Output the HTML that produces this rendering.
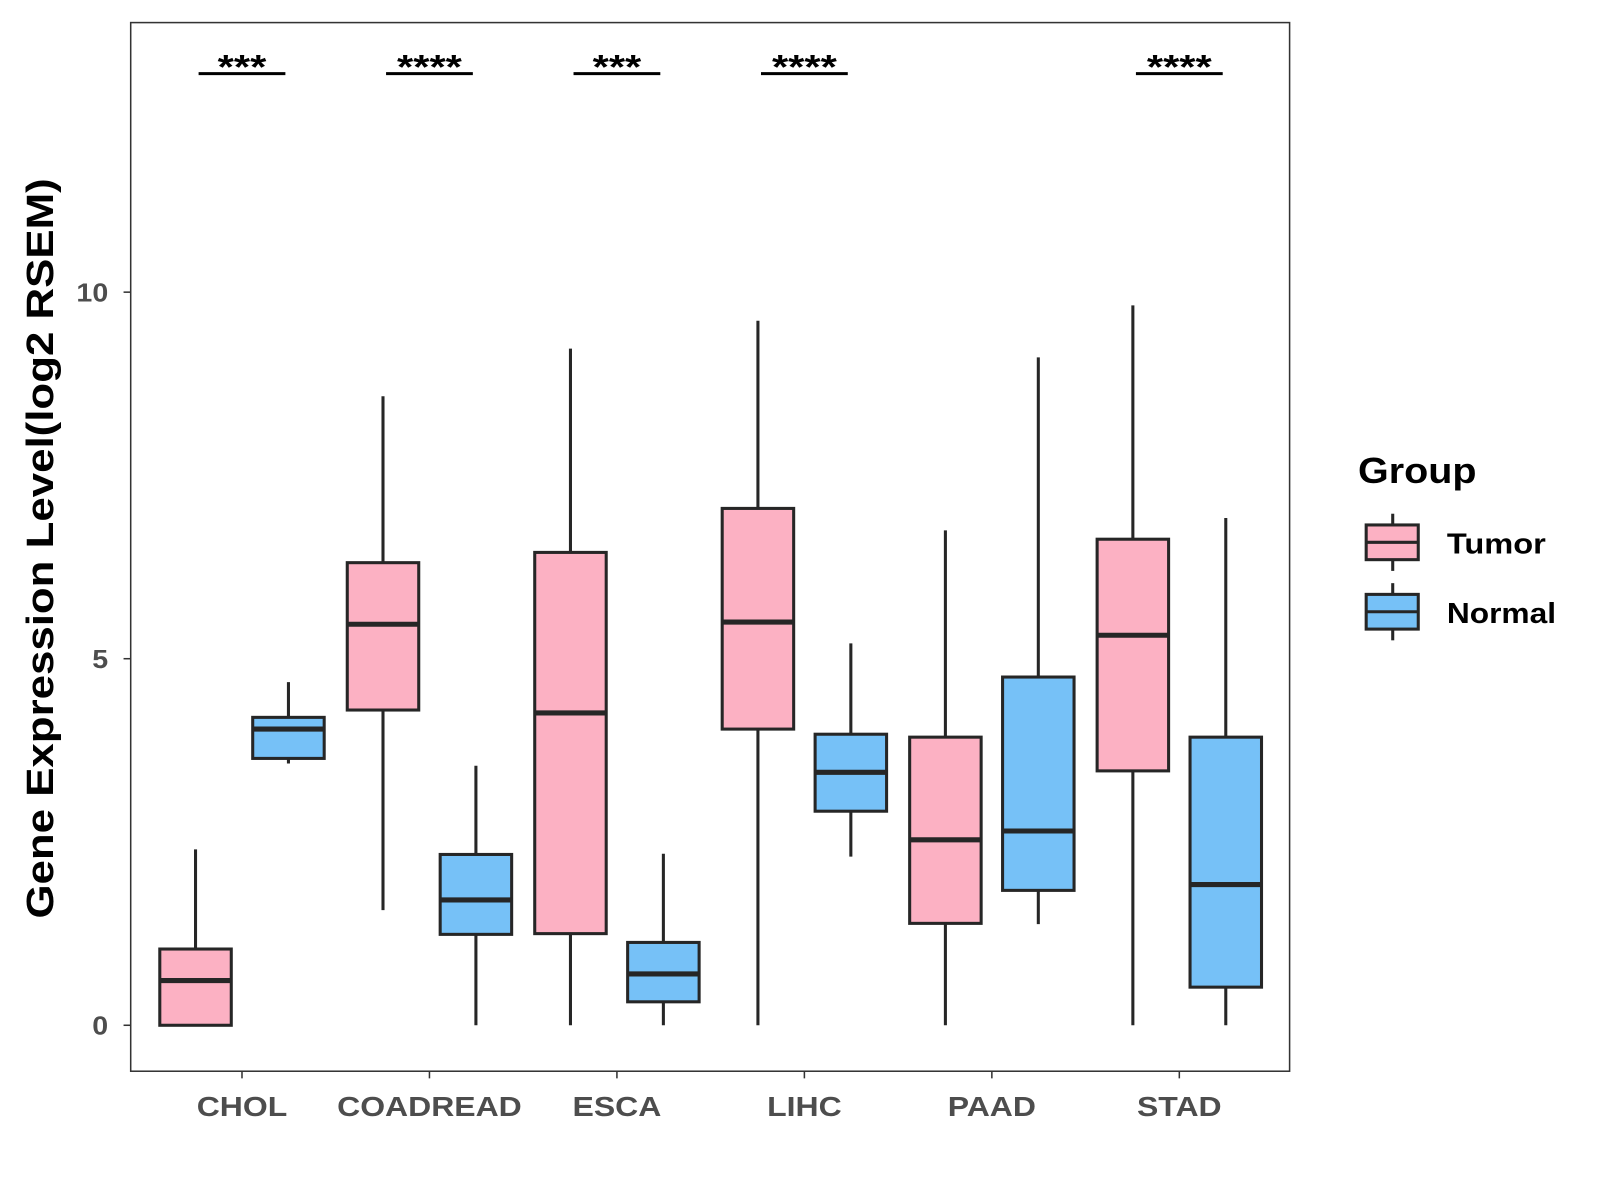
<!DOCTYPE html>
<html><head><meta charset="utf-8"><style>
html,body{margin:0;padding:0;background:#fff}
svg{display:block}
text{font-family:"Liberation Sans",Arial,sans-serif;font-weight:bold}
</style></head><body>
<svg id="chart" width="1600" height="1200" viewBox="0 0 1567 1175" xmlns="http://www.w3.org/2000/svg">
<rect x="0" y="0" width="1567" height="1175" fill="#fff"/>
<g id="plot"></g>
<rect x="128" y="22" width="1135" height="1027" fill="none" stroke="#333" stroke-width="1.5"/>
<text transform="translate(52,537) rotate(-90)" text-anchor="middle" font-size="37" fill="#000" textLength="725" lengthAdjust="spacingAndGlyphs">Gene Expression Level(log2 RSEM)</text>
<g>
<text x="1330" y="473" font-size="35" fill="#000" textLength="116" lengthAdjust="spacingAndGlyphs">Group</text>
<g>
<line x1="1364" y1="503" x2="1364" y2="559" stroke="#262626" stroke-width="3"/>
<rect x="1338" y="514" width="51" height="34" fill="#FCB1C3" stroke="#262626" stroke-width="3"/>
<line x1="1338" y1="531" x2="1389" y2="531" stroke="#262626" stroke-width="3"/>
<text x="1417" y="542" font-size="28" fill="#000" textLength="97" lengthAdjust="spacingAndGlyphs">Tumor</text></g>
<g>
<line x1="1364" y1="571" x2="1364" y2="627" stroke="#262626" stroke-width="3"/>
<rect x="1338" y="582" width="51" height="34" fill="#76C1F7" stroke="#262626" stroke-width="3"/>
<line x1="1338" y1="599" x2="1389" y2="599" stroke="#262626" stroke-width="3"/>
<text x="1417" y="610" font-size="28" fill="#000" textLength="107" lengthAdjust="spacingAndGlyphs">Normal</text></g>
</g>
</svg>
<script>
const categories = ["CHOL","COADREAD","ESCA","LIHC","PAAD","STAD"];
const tumorMin = [0,1.57,0,0,0,0];
const tumorQ1 = [0,4.30,1.25,4.04,1.39,3.47];
const tumorMed = [0.61,5.47,4.26,5.50,2.53,5.32];
const tumorQ3 = [1.04,6.31,6.45,7.05,3.93,6.63];
const tumorMax = [2.4,8.58,9.23,9.61,6.75,9.82];
const normalMin = [3.57,0,0,2.30,1.38,0];
const normalQ1 = [3.64,1.24,0.32,2.92,1.84,0.52];
const normalMed = [4.04,1.71,0.70,3.45,2.65,1.92];
const normalQ3 = [4.2,2.33,1.13,3.97,4.75,3.93];
const normalMax = [4.68,3.54,2.34,5.21,9.11,6.92];
const significance = ["***","****","***","****","","****"];
const yTicks = [0,5,10];

const NS="http://www.w3.org/2000/svg";
const g=document.getElementById('plot');
const yScale=v=>1004-v*71.8;
const xScale=i=>237+i*183.6;
function mk(tag,attrs){const e=document.createElementNS(NS,tag);for(const k in attrs)e.setAttribute(k,attrs[k]);g.appendChild(e);return e;}
function widen(t,k){const L=t.getComputedTextLength();t.setAttribute('textLength',L*k);t.setAttribute('lengthAdjust','spacingAndGlyphs');}

yTicks.forEach(t=>{
  const y=yScale(t);
  const l=mk('line',{x1:121,x2:128,y1:y,y2:y,stroke:'#333','stroke-width':1.5});
  
  
  const tx=mk('text',{x:106,y:y+9,'text-anchor':'end','font-size':25,fill:'#4d4d4d'});
  tx.textContent=t;
  
  
  widen(tx,1.12);
});

function box(cx,mn,q1,md,q3,mx,fill,name){
  const w=35;
  const wh=mk('line',{x1:cx,x2:cx,y1:yScale(mx),y2:yScale(mn),stroke:'#262626','stroke-width':3});
  
  
  const r=mk('rect',{x:cx-w,y:yScale(q3),width:2*w,height:yScale(q1)-yScale(q3),fill:fill,stroke:'#262626','stroke-width':3});
  
  
  const m=mk('line',{x1:cx-w,x2:cx+w,y1:yScale(md),y2:yScale(md),stroke:'#262626','stroke-width':5});
  
  
}

categories.forEach((c,i)=>{
  const x=xScale(i);
  box(x-45.5,tumorMin[i],tumorQ1[i],tumorMed[i],tumorQ3[i],tumorMax[i],'#FCB1C3','tumor-'+c.toLowerCase());
  box(x+45.5,normalMin[i],normalQ1[i],normalMed[i],normalQ3[i],normalMax[i],'#76C1F7','normal-'+c.toLowerCase());
  const tk=mk('line',{x1:x,x2:x,y1:1049,y2:1056,stroke:'#333','stroke-width':1.5});
  
  
  const tl=mk('text',{x:x,y:1093,'text-anchor':'middle','font-size':27,fill:'#4d4d4d'});
  tl.textContent=c;
  
  
  widen(tl,1.16);
  if(significance[i]){
    const b=mk('line',{x1:x-42.5,x2:x+42.5,y1:72,y2:72,stroke:'#000','stroke-width':3});
    
    
    const s=mk('text',{x:x,y:77,'text-anchor':'middle','font-size':34,fill:'#000'});
    s.textContent=significance[i];
    
    
    widen(s,1.2);
  }
});
</script>
</body></html>
